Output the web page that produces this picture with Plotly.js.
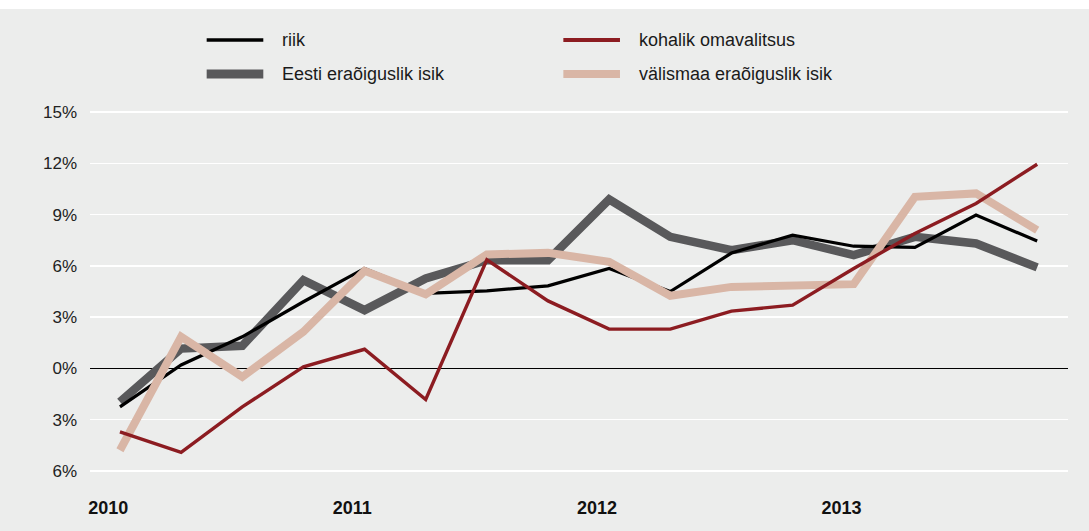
<!DOCTYPE html>
<html>
<head>
<meta charset="utf-8">
<script src="https://cdn.plot.ly/plotly-3.0.1.min.js"></script>
<style>
  html, body { margin: 0; padding: 0; background: #ffffff; }
  #chart { width: 1089px; height: 522px; margin-top: 9px; }
</style>
</head>
<body>
<div id="chart"></div>
<script>
// Quarters 2010 Q1 .. 2013 Q4
const quarters = [0,1,2,3,4,5,6,7,8,9,10,11,12,13,14,15];
const yearTickPos = [-0.19, 3.8, 7.8, 11.8];
const yearLabels = ["2010", "2011", "2012", "2013"];
const yTickVals = [-6, -3, 0, 3, 6, 9, 12, 15];
const yTickText = ["6%", "3%", "0%", "3%", "6%", "9%", "12%", "15%"];

const seriesNames = ["riik", "kohalik omavalitsus", "Eesti eraõiguslik isik", "välismaa eraõiguslik isik"];
const riik      = [-2.25, 0.2, 1.85, 3.9, 5.85, 4.39, 4.54, 4.83, 5.85, 4.5, 6.75, 7.8, 7.15, 7.08, 8.97, 7.45];
const kohalik   = [-3.72, -4.92, -2.25, 0.09, 1.12, -1.82, 6.35, 3.95, 2.3, 2.3, 3.35, 3.7, 5.85, 7.9, 9.65, 11.95];
const eesti     = [-1.96, 1.16, 1.32, 5.16, 3.41, 5.26, 6.33, 6.33, 9.89, 7.7, 6.92, 7.5, 6.63, 7.7, 7.31, 5.91];
const valismaa  = [-4.79, 1.85, -0.5, 2.14, 5.71, 4.34, 6.67, 6.76, 6.24, 4.25, 4.77, 4.87, 4.93, 10.04, 10.24, 8.09];

const colors = { riik: "#000000", kohalik: "#8c1c21", eesti: "#59595b", valismaa: "#d9b6a6" };
const widths = { riik: 3.2, kohalik: 3.4, eesti: 8.5, valismaa: 8 };

function tr(y, name, color, width) {
  return { x: quarters, y: y, name: name, type: "scatter", mode: "lines",
           line: { color: color, width: width, shape: "linear" }, hoverinfo: "x+y+name", showlegend: false };
}

const data = [
  tr(eesti, seriesNames[2], colors.eesti, widths.eesti),
  tr(riik, seriesNames[0], colors.riik, widths.riik),
  tr(valismaa, seriesNames[3], colors.valismaa, widths.valismaa),
  tr(kohalik, seriesNames[1], colors.kohalik, widths.kohalik)
];

// manual legend (paper coords)
const legendItems = [
  { name: seriesNames[0], color: colors.riik, width: 3.5, x0: 0.1193, x1: 0.1772, tx: 0.1943, y: 1.1399 },
  { name: seriesNames[1], color: colors.kohalik, width: 4, x0: 0.4840, x1: 0.5419, tx: 0.5590, y: 1.1399 },
  { name: seriesNames[2], color: colors.eesti, width: 9, x0: 0.1193, x1: 0.1772, tx: 0.1943, y: 1.0534 },
  { name: seriesNames[3], color: colors.valismaa, width: 8, x0: 0.4840, x1: 0.5419, tx: 0.5590, y: 1.0534 }
];
const shapes = legendItems.map(it => ({
  type: "line", xref: "paper", yref: "paper", x0: it.x0, x1: it.x1, y0: it.y, y1: it.y,
  line: { color: it.color, width: it.width }
}));
const annotations = legendItems.map(it => ({
  xref: "paper", yref: "paper", x: it.tx, y: it.y, xanchor: "left", yanchor: "middle",
  text: it.name, showarrow: false, font: { family: "Liberation Sans, Arial, sans-serif", size: 18, color: "#1a1a1a" }
}));

const layout = {
  width: 1089, height: 522,
  margin: { l: 90, r: 21, t: 86, b: 43 },
  paper_bgcolor: "#ecedec", plot_bgcolor: "#ecedec",
  font: { family: "Liberation Sans, Arial, sans-serif", color: "#1a1a1a" },
  showlegend: false,
  xaxis: {
    range: [-0.49, 15.504], tickmode: "array", tickvals: yearTickPos, ticktext: yearLabels,
    showgrid: false, zeroline: false, showline: false, ticks: "",
    tickfont: { size: 18, family: "Liberation Sans, Arial, sans-serif", color: "#111", weight: "bold" },
    ticklabelstandoff: 7, fixedrange: true
  },
  yaxis: {
    range: [-7, 16], tickmode: "array", tickvals: yTickVals, ticktext: yTickText,
    showgrid: true, gridcolor: "#ffffff", gridwidth: 1.3,
    zeroline: true, zerolinecolor: "#000000", zerolinewidth: 1.3,
    showline: false, ticks: "",
    tickfont: { size: 17, family: "Liberation Sans, Arial, sans-serif", color: "#222" },
    ticklabelstandoff: 12, fixedrange: true
  },
  shapes: shapes,
  annotations: annotations
};

Plotly.newPlot("chart", data, layout, { displayModeBar: false, staticPlot: true });
</script>
</body>
</html>
